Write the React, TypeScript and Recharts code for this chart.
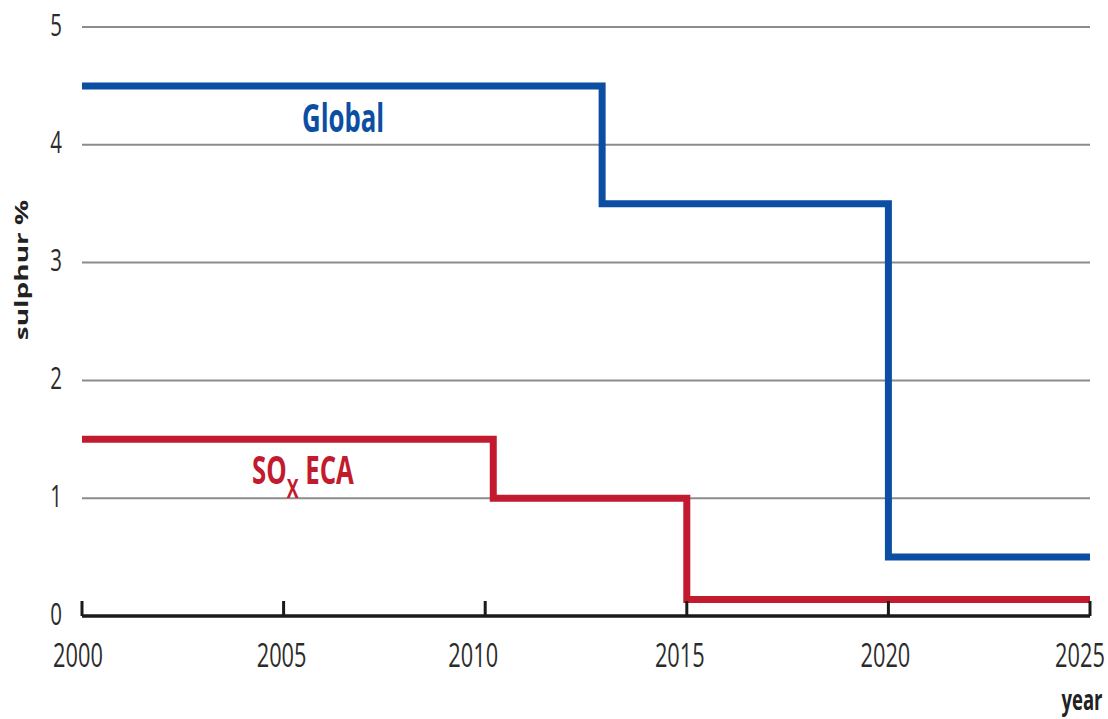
import { LineChart, Line, XAxis, YAxis, CartesianGrid } from 'recharts';

// axis ticks
const yearTicks = [2000, 2005, 2010, 2015, 2020, 2025];
const sulphurTicks = [0, 1, 2, 3, 4, 5];

// global sulphur cap
const globalYears = [2000, 2012.9, 2020, 2025];
const globalLimit = [4.5, 3.5, 0.5, 0.5];

// SOx ECA sulphur cap
const ecaYears = [2000, 2010.2, 2015, 2025];
const ecaLimit = [1.5, 1.0, 0.14, 0.14];

const globalData = globalYears.map((year, i) => ({ year, value: globalLimit[i] }));
const ecaData = ecaYears.map((year, i) => ({ year, value: ecaLimit[i] }));

const FONT = '"Open Sans", sans-serif';
const SX = 0.66; // the source type is a condensed face
const BLUE = '#0b4ea2';
const RED = '#c21b2f';

// the year labels in the source sit a little left of their ticks, unevenly
const labelNudge: Record<number, number> = { 2000: -4, 2005: -2, 2010: -12, 2015: -7, 2020: -3, 2025: -10 };

function YearTick({ x, y, payload }: any) {
  const dx = labelNudge[payload.value] ?? 0;
  return (
    <g>
      <line x1={x} x2={x} y1={y - 15} y2={y} stroke="#1a1a1a" strokeWidth={3} />
      <text
        transform={`translate(${x + dx},${y + 51}) scale(${SX},1)`}
        textAnchor="middle"
        fontSize={33}
        fill="#2b2b2b"
        fontFamily={FONT}
      >
        {payload.value}
      </text>
    </g>
  );
}

function SulphurTick({ x, y, payload }: any) {
  return (
    <text
      transform={`translate(${x},${y - 2}) scale(${SX},1)`}
      textAnchor="end"
      dy="0.34em"
      fontSize={31}
      fill="#2b2b2b"
      fontFamily={FONT}
    >
      {payload.value}
    </text>
  );
}

export default function App() {
  return (
    <div style={{ position: 'absolute', left: 0, top: 0, width: 1108, height: 719, background: '#fff' }}>
      <LineChart width={1108} height={719} margin={{ top: 27, right: 18, bottom: 73, left: 0 }}>
        <CartesianGrid horizontal vertical={false} stroke="#8c8c8c" strokeWidth={2} />
        <XAxis
          type="number"
          dataKey="year"
          domain={[2000, 2025]}
          ticks={yearTicks}
          interval={0}
          tickSize={0}
          tickMargin={0}
          tickLine={false}
          axisLine={{ stroke: '#1a1a1a', strokeWidth: 3.5 }}
          tick={<YearTick />}
          height={30}
        />
        <YAxis
          type="number"
          domain={[0, 5]}
          ticks={sulphurTicks}
          interval={0}
          width={82}
          tickSize={0}
          tickMargin={20}
          tickLine={false}
          axisLine={false}
          tick={<SulphurTick />}
        />
        <Line
          data={globalData}
          dataKey="value"
          type="stepAfter"
          stroke={BLUE}
          strokeWidth={7}
          dot={false}
          isAnimationActive={false}
        />
        <Line
          data={ecaData}
          dataKey="value"
          type="stepAfter"
          stroke={RED}
          strokeWidth={7}
          dot={false}
          isAnimationActive={false}
        />
      </LineChart>
      <svg
        width={1108}
        height={719}
        style={{ position: 'absolute', left: 0, top: 0, pointerEvents: 'none' }}
        fontFamily={FONT}
        fontWeight="bold"
      >
        <text
          transform={`translate(21,270) scale(${SX},1) rotate(-90)`}
          textAnchor="middle"
          dominantBaseline="central"
          fontSize={28}
          fill="#222"
        >
          sulphur %
        </text>
        <text transform={`translate(1082,710) scale(${SX},1)`} textAnchor="middle" fontSize={28} fill="#222">
          year
        </text>
        <text transform={`translate(302,132) scale(${SX},1)`} fontSize={39} fill={BLUE}>
          Global
        </text>
        <text transform={`translate(252,484) scale(${SX},1)`} fontSize={39} fill={RED}>
          SO
          <tspan fontSize={27} dy={14}>X</tspan>
          <tspan dy={-14}> ECA</tspan>
        </text>
      </svg>
    </div>
  );
}
